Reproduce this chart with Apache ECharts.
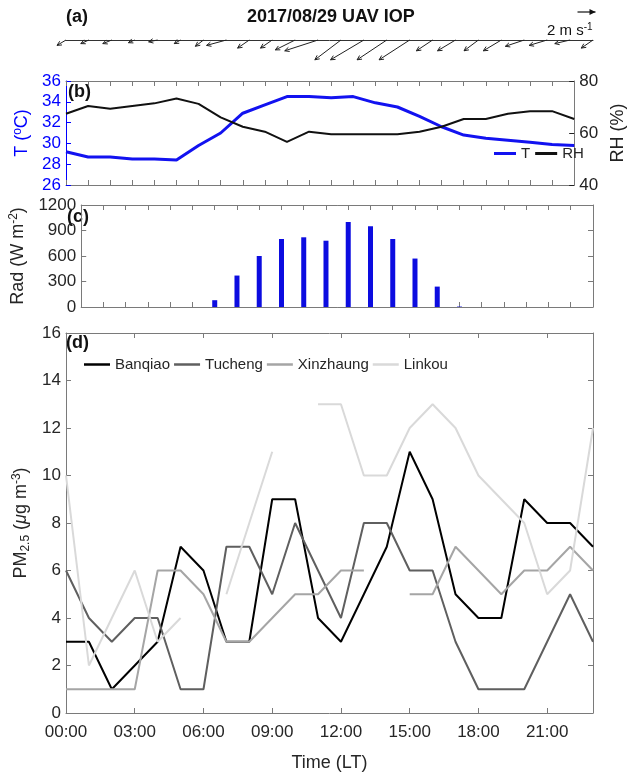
<!DOCTYPE html>
<html>
<head>
<meta charset="utf-8">
<script src="https://cdn.jsdelivr.net/npm/echarts@6/dist/echarts.min.js"></script>
<style>
html,body{margin:0;padding:0;background:#fff}
#main{width:635px;height:778px}
</style>
</head>
<body>
<div id="main"></div>
<script>
// hours of the day (LT)
var hours = [0,1,2,3,4,5,6,7,8,9,10,11,12,13,14,15,16,17,18,19,20,21,22,23];
var timeLabels = ['00:00','03:00','06:00','09:00','12:00','15:00','18:00','21:00'];

// (a) wind, m/s (u east, v north)
var windU = [-1.0,-0.9,-1.0,-0.7,-1.0,-0.7,-0.9,-2.2,-1.3,-1.3,-2.2,-3.7,-2.9,-3.7,-3.3,-3.4,-1.8,-2.0,-1.6,-2.0,-2.1,-2.0,-1.7,-1.3];
var windV = [-0.6,-0.4,-0.4,-0.3,-0.2,-0.4,-0.7,-0.6,-0.9,-0.9,-1.1,-1.2,-2.2,-2.2,-2.2,-2.2,-1.2,-1.2,-1.2,-1.2,-0.7,-0.6,-0.4,-0.9];

// (b) temperature and relative humidity
var tempC = [29.2,28.7,28.7,28.5,28.5,28.4,29.8,31.0,32.9,33.7,34.5,34.5,34.4,34.5,33.9,33.5,32.6,31.6,30.8,30.5,30.3,30.1,29.9,29.8];
var rhPct = [67.4,70.4,69.3,70.4,71.4,73.3,71.2,66.0,62.4,60.5,56.6,60.5,59.5,59.5,59.5,59.5,60.5,62.4,65.4,65.4,67.4,68.4,68.4,65.4];

// (c) radiation
var rad = [0,0,0,0,0,0,80,370,600,800,820,780,1000,950,800,570,240,5,0,0,0,0,0,0];

// (d) PM2.5 by station
var stationNames = ['Banqiao','Tucheng','Xinzhaung','Linkou'];
var stationColors = ['#000000','#5f5f5f','#a5a5a5','#d9d9d9'];
var banqiao   = [3,3,1,2,3,7,6,3,3,9,9,4,3,5,7,11,9,5,4,4,9,8,8,7];
var tucheng   = [6,4,3,4,4,1,1,7,7,5,8,6,4,8,8,6,6,3,1,1,1,3,5,3];
var xinzhaung = [1,1,1,1,6,6,5,3,3,4,5,5,6,6,null,5,5,7,6,5,6,6,7,6];
var linkou    = [10,2,4,6,3,4,null,5,8,11,null,13,13,10,10,12,13,12,10,9,8,5,6,12];

var FONT = "'Liberation Sans Narrow','Liberation Sans',Arial,sans-serif";
var TXT = '#262626';
var AX = '#7a7a7a';
var PX_PER_MS = 9; // arrow pixels per m/s

var myChart = echarts.init(document.getElementById('main'));

function pairs(arr){
	return hours.map(function(h,i){ return [h, arr[i] == null ? '-' : arr[i]]; });
}

function xAx(grid, pos, interval, showLabel){
	return {
		type:'value', gridIndex:grid, position:pos, min:0, max:23, interval:interval,
		axisLine:{show:true, onZero:false, lineStyle:{color:AX}},
		axisTick:{show:true, inside:true, length:5, lineStyle:{color:AX}},
		axisLabel:{show:showLabel, color:TXT, fontSize:17, fontFamily:FONT, margin:11,
			formatter:function(v){ return timeLabels[v/3]; }},
		splitLine:{show:false}
	};
}

function yAx(grid, pos, min, max, interval, showLabel, color){
	return {
		type:'value', gridIndex:grid, position:pos, min:min, max:max, interval:interval,
		axisLine:{show:true, onZero:false, lineStyle:{color:color || AX}},
		axisTick:{show:true, inside:true, length:5, lineStyle:{color:color || AX}},
		axisLabel:{show:showLabel, color:color || TXT, fontSize:17, fontFamily:FONT, margin:5,
			formatter:function(v){ return String(v); }},
		splitLine:{show:false},
		nameLocation:'middle',
		nameTextStyle:{fontSize:18, fontFamily:FONT, color:color || TXT}
	};
}

//画风矢量
function renderArrow(params, api){
	var tail = api.coord([api.value(0), 0]);
	var dx = api.value(1) * PX_PER_MS, dy = -api.value(2) * PX_PER_MS;
	var head = [tail[0] + dx, tail[1] + dy];
	var ang = Math.atan2(dy, dx), hl = 5, ha = 0.45;
	var p1 = [head[0] - hl*Math.cos(ang - ha), head[1] - hl*Math.sin(ang - ha)];
	var p2 = [head[0] - hl*Math.cos(ang + ha), head[1] - hl*Math.sin(ang + ha)];
	return {type:'group', children:[
		{type:'line', shape:{x1:tail[0], y1:tail[1], x2:head[0], y2:head[1]}, style:{stroke:'#222', lineWidth:1}},
		{type:'polyline', shape:{points:[p1, head, p2]}, style:{stroke:'#222', fill:null, lineWidth:1}}
	]};
}

var supStyle = {fontSize:12, fontFamily:FONT, verticalAlign:'top', padding:[0,0,9,0]};
var subStyle = {fontSize:12, fontFamily:FONT, verticalAlign:'bottom', padding:[9,0,0,0]};

var yT = yAx(1,'left',26,36,2,true,'#0000ff');
yT.name = '{a|T (}{sup|o}{a|C)}';
yT.nameGap = 25;
yT.nameTextStyle.rich = {a:{fontSize:18, fontFamily:FONT, color:'#0000ff', verticalAlign:'middle'}, sup:Object.assign({color:'#0000ff'}, supStyle)};

var yRH = yAx(1,'right',40,80,20,true,'#222');
yRH.axisLine.lineStyle.color = AX;
yRH.name = 'RH (%)';
yRH.nameGap = 27;

var yRad = yAx(2,'left',0,1200,300,true);
yRad.name = '{a|Rad (W m}{sup|-2}{a|)}';
yRad.nameGap = 38;
yRad.nameTextStyle.rich = {a:{fontSize:18, fontFamily:FONT, color:TXT, verticalAlign:'middle'}, sup:Object.assign({color:TXT}, supStyle)};

var yPM = yAx(3,'left',0,16,2,true);
yPM.name = '{a|PM}{sub|2.5}{a| (}{i|μ}{a|g m}{sup|-3}{a|)}';
yPM.nameGap = 28;
yPM.nameTextStyle.rich = {
	a:{fontSize:18, fontFamily:FONT, color:TXT, verticalAlign:'middle'},
	i:{fontSize:18, fontFamily:FONT, color:TXT, fontStyle:'italic', verticalAlign:'middle'},
	sub:Object.assign({color:TXT}, subStyle),
	sup:Object.assign({color:TXT}, supStyle)
};

var xTime = xAx(3,'bottom',3,true);
xTime.name = 'Time (LT)';
xTime.nameLocation = 'middle';
xTime.nameGap = 41;
xTime.nameTextStyle = {fontSize:18, fontFamily:FONT, color:TXT};

var options = {
	backgroundColor:'#fff',
	animation:false,
	textStyle:{fontFamily:FONT},
	grid:[
		{left:66, right:42, top:25, height:15},
		{left:66, right:42, top:81, height:104},
		{left:66, right:42, top:205, height:102},
		{left:66, right:42, top:333, height:380}
	],
	xAxis:[
		{type:'value', gridIndex:0, min:0, max:23, axisLine:{show:true, onZero:false, lineStyle:{color:'#333'}},
			axisTick:{show:false}, axisLabel:{show:false}, splitLine:{show:false}},
		xAx(1,'bottom',1,false),
		xAx(1,'top',1,false),
		xAx(2,'bottom',1,false),
		xAx(2,'top',1,false),
		xTime,
		xAx(3,'top',3,false)
	],
	yAxis:[
		{type:'value', gridIndex:0, min:0, max:1, show:false},
		yT, yRH,
		yRad, yAx(2,'right',0,1200,300,false),
		yPM, yAx(3,'right',0,16,2,false)
	],
	legend:[
		{data:['T','RH'], left:489, top:141, icon:'rect', itemWidth:22, itemHeight:3, itemGap:5,
			textStyle:{fontSize:15, fontFamily:FONT, color:TXT}},
		{data:stationNames, left:79, top:352, icon:'rect', itemWidth:26, itemHeight:2.5, itemGap:4,
			textStyle:{fontSize:15, fontFamily:FONT, color:TXT}}
	],
	graphic:[
		{type:'text', left:66, top:8, style:{text:'(a)', font:'bold 18px ' + FONT, fill:'#111'}},
		{type:'text', left:247, top:8, style:{text:'2017/08/29 UAV IOP', font:'bold 18px ' + FONT, fill:'#111'}},
		{type:'text', left:68, top:83, style:{text:'(b)', font:'bold 18px ' + FONT, fill:'#111'}},
		{type:'text', left:67, top:208, style:{text:'(c)', font:'bold 18px ' + FONT, fill:'#111'}},
		{type:'text', left:66, top:334, style:{text:'(d)', font:'bold 18px ' + FONT, fill:'#111'}},
		{type:'text', left:547, top:22, style:{text:'2 m s{s|-1}', font:'15px ' + FONT, fill:'#111',
			rich:{s:{fontSize:10, fontFamily:FONT, verticalAlign:'top', padding:[0,0,7,0]}}}},
		{type:'group', left:575, top:9, children:[
			{type:'line', shape:{x1:0, y1:5, x2:2*PX_PER_MS, y2:5}, style:{stroke:'#111', lineWidth:1.2}},
			{type:'polygon', shape:{points:[[2*PX_PER_MS,5],[2*PX_PER_MS-6,2],[2*PX_PER_MS-6,8]]}, style:{fill:'#111'}}
		]}
	],
	series:[
		{name:'wind', type:'custom', xAxisIndex:0, yAxisIndex:0, renderItem:renderArrow,
			data:hours.map(function(h,i){ return [h, windU[i], windV[i]]; })},
		{name:'T', type:'line', xAxisIndex:1, yAxisIndex:1, symbol:'none', data:pairs(tempC),
			itemStyle:{color:'#1212f0'}, lineStyle:{color:'#1212f0', width:3}},
		{name:'RH', type:'line', xAxisIndex:1, yAxisIndex:2, symbol:'none', data:pairs(rhPct),
			itemStyle:{color:'#111'}, lineStyle:{color:'#111', width:2}},
		{name:'Rad', type:'bar', xAxisIndex:3, yAxisIndex:3, barWidth:5, data:pairs(rad),
			itemStyle:{color:'#0c0ce0', borderWidth:0}}
	]
};

var stationData = [banqiao, tucheng, xinzhaung, linkou];
stationNames.forEach(function(name, k){
	options.series.push({
		name:name, type:'line', xAxisIndex:5, yAxisIndex:5, symbol:'none', connectNulls:false,
		data:pairs(stationData[k]),
		itemStyle:{color:stationColors[k]}, lineStyle:{color:stationColors[k], width:2}
	});
});

myChart.setOption(options);
</script>
</body>
</html>
